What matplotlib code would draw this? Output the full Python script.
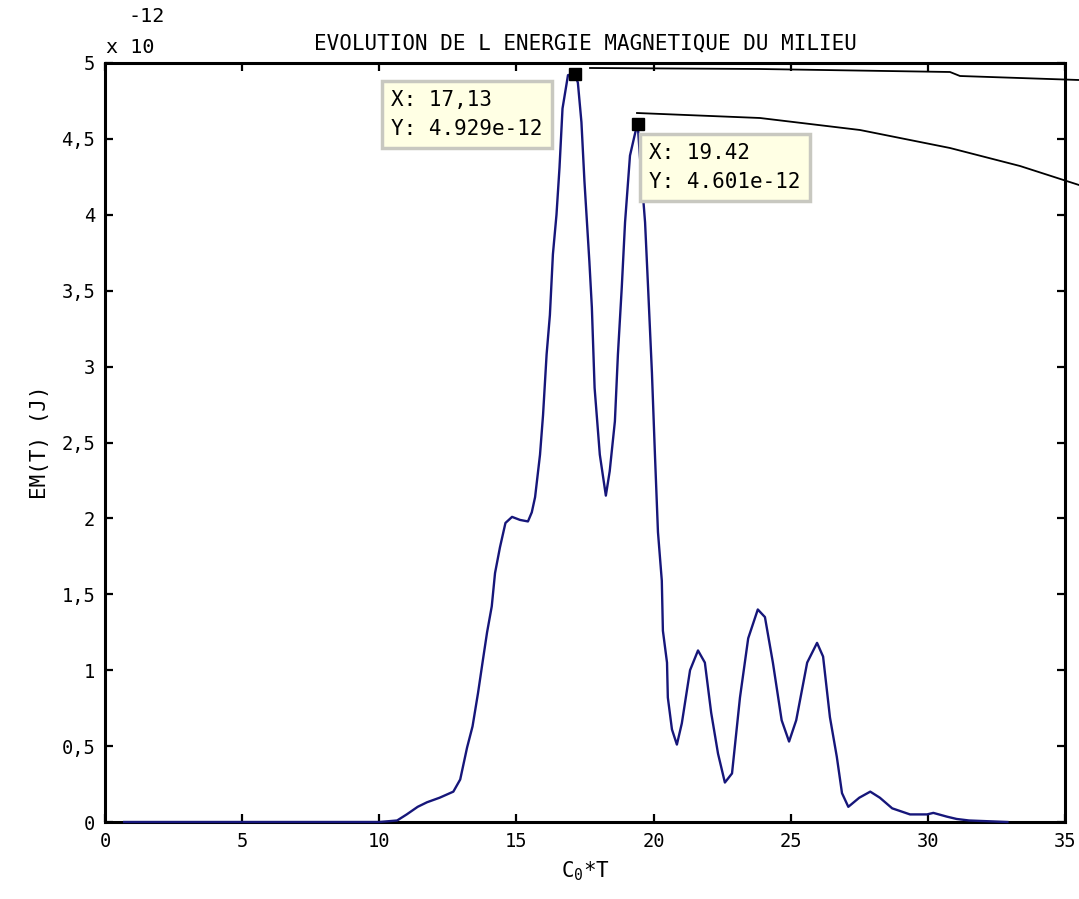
import matplotlib
matplotlib.use('Agg')
import matplotlib.pyplot as plt
from matplotlib.lines import Line2D
import numpy as np

plt.rcParams['font.family'] = ['DejaVu Sans Mono']
plt.rcParams['mathtext.default'] = 'regular'

# C0*T values and magnetic energy (in units of 1e-12 J)
ct = [0.7, 5.0, 10.0, 10.65, 11.0, 11.4, 11.74, 12.2, 12.7, 12.95, 13.2, 13.4,
      13.6, 13.78, 13.93, 14.1, 14.22, 14.4, 14.6, 14.84, 15.13, 15.42, 15.56,
      15.68, 15.86, 15.97, 16.1, 16.22, 16.33, 16.46, 16.57, 16.68, 16.88, 17.13,
      17.24, 17.37, 17.48, 17.66, 17.75, 17.85, 18.04, 18.26, 18.4, 18.59, 18.7,
      18.84, 18.96, 19.14, 19.33, 19.42, 19.5, 19.69, 19.8, 19.94, 20.05, 20.16,
      20.3, 20.34, 20.49, 20.52, 20.67, 20.85, 21.03, 21.33, 21.62, 21.87, 22.1,
      22.35, 22.6, 22.86, 23.15, 23.45, 23.8, 24.06, 24.35, 24.67, 24.94, 25.2,
      25.6, 25.96, 26.18, 26.43, 26.68, 26.87, 27.1, 27.5, 27.9, 28.25, 28.7,
      29.35, 29.97, 30.2, 30.7, 31.05, 31.5, 32.9]
em = [0.0, 0.0, 0.0, 0.01, 0.05, 0.1, 0.13, 0.16, 0.2, 0.28, 0.49, 0.63,
      0.85, 1.07, 1.25, 1.42, 1.64, 1.81, 1.97, 2.01, 1.99, 1.98, 2.04,
      2.14, 2.42, 2.68, 3.08, 3.34, 3.74, 4.0, 4.31, 4.7, 4.92, 4.929,
      4.87, 4.61, 4.22, 3.69, 3.39, 2.86, 2.42, 2.15, 2.31, 2.64, 3.08,
      3.52, 3.95, 4.39, 4.54, 4.601, 4.39, 3.95, 3.52, 2.96, 2.42, 1.91,
      1.59, 1.26, 1.05, 0.82, 0.61, 0.51, 0.65, 1.0, 1.13, 1.05, 0.72,
      0.45, 0.26, 0.32, 0.82, 1.21, 1.40, 1.35, 1.05, 0.67, 0.53, 0.67,
      1.05, 1.18, 1.09, 0.69, 0.43, 0.19, 0.10, 0.16, 0.20, 0.16, 0.09,
      0.05, 0.05, 0.06, 0.035, 0.02, 0.01, 0.0]
scale = 1e-12

xticks = [0, 5, 10, 15, 20, 25, 30, 35]
yticks = [0, 0.5, 1, 1.5, 2, 2.5, 3, 3.5, 4, 4.5, 5]
ytick_labels = ['0', '0,5', '1', '1,5', '2', '2,5', '3', '3,5', '4', '4,5', '5']

tip_x = [17.13, 19.42]
tip_y = [4.929, 4.601]
tip_text = ['X: 17,13\nY: 4.929e-12', 'X: 19.42\nY: 4.601e-12']

W, H = 1079, 899
fig = plt.figure(figsize=(W / 100, H / 100), dpi=100)
ax = fig.add_axes([105 / W, 1 - 822 / H, 960 / W, 759 / H])

ax.plot(np.array(ct), np.array(em) * scale, color='#16167a', lw=1.7,
        zorder=3, clip_on=False)

ax.set_xlim(0, 35)
ax.set_ylim(0, 5 * scale)
ax.set_xticks(xticks)
ax.set_xticklabels([str(t) for t in xticks])
ax.set_yticks([t * scale for t in yticks])
ax.set_yticklabels(ytick_labels)
ax.tick_params(direction='in', length=6, width=1.6, top=True, right=True,
               labelsize=13.5, pad=7)
for s in ax.spines.values():
	s.set_linewidth(2.2)

ax.set_title('EVOLUTION DE L ENERGIE MAGNETIQUE DU MILIEU', fontsize=15, pad=10)
ax.set_xlabel('C$_0$*T', fontsize=15, labelpad=6)
ax.set_ylabel('EM(T) (J)', fontsize=15, labelpad=8)
fig.text(106 / W, 1 - 57 / H, 'x 10', fontsize=14.5, va='bottom')
fig.text(128 / W, 1 - 26 / H, '-12', fontsize=14.5, va='bottom')

# data tips
for xv, yv in zip(tip_x, tip_y):
	ax.plot([xv], [yv * scale], 's', color='k', ms=9, clip_on=False, zorder=5)

box_pos = [(391 / W, 1 - 90 / H), (649 / W, 1 - 143 / H)]
for (bx, by), txt in zip(box_pos, tip_text):
	fig.text(bx, by, txt, fontsize=15, va='top', ha='left', linespacing=1.55,
	         bbox=dict(boxstyle='square,pad=0.45', fc='#ffffe4', ec='#c8c8c0', lw=2.5))

# connector lines running off to the right of the window
def pix_line(px, py):
	fig.add_artist(Line2D([p / W for p in px], [1 - p / H for p in py],
	                      color='k', lw=1.3))

pix_line([590, 760, 950, 960, 1079], [68, 69, 72, 76, 80])
pix_line([637, 760, 860, 950, 1020, 1079], [113, 118, 130, 148, 166, 185])

fig.savefig('out.png', dpi=100)
